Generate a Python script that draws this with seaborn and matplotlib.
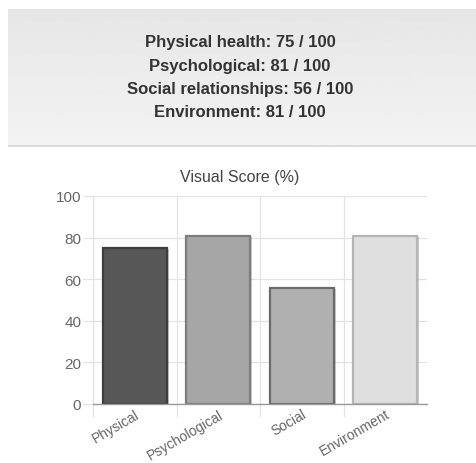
import numpy as np
import pandas as pd
import matplotlib
matplotlib.use("Agg")
import matplotlib.pyplot as plt
import matplotlib.patheffects as pe
import seaborn as sns

# chart data
categories = ["Physical", "Psychological", "Social", "Environment"]
scores = [75, 81, 56, 81]
header_labels = ["Physical health", "Psychological", "Social relationships", "Environment"]
header_scores = [75, 81, 56, 81]
bar_colors = ["#575757", "#a6a6a6", "#b0b0b0", "#dfdfdf"]
edge_colors = ["#3e3e3e", "#7d7d7d", "#6a6a6a", "#b5b5b5"]

sns.set_theme(style="white")
plt.rcParams["font.family"] = ["Liberation Sans", "DejaVu Sans"]

fig = plt.figure(figsize=(4.76, 4.64), dpi=100)

# grey header panel with gradient
W, H = 476, 464
hax = fig.add_axes([8 / W, 1 - 148 / H, 1 - 8 / W, 138 / H])
grad = np.linspace(0.902, 0.952, 100).reshape(-1, 1)
hax.imshow(grad, aspect="auto", cmap="gray", vmin=0, vmax=1, extent=[0, 1, 0, 1])
hax.axhline(0.004, color="#d6d6d6", lw=1.2)
hax.set_xlim(0, 1)
hax.set_ylim(0, 1)
hax.axis("off")

for i, (lab, val) in enumerate(zip(header_labels, header_scores)):
    fig.text(240 / W, 1 - (43 + i * 23.3) / H, f"{lab}: {val} / 100",
             ha="center", va="center", fontsize=12, fontweight="bold", color="#333333")

# bar chart
ax = fig.add_axes([93 / W, 1 - 405 / H, 334 / W, 208 / H])
df = pd.DataFrame({"category": categories, "score": scores})
sns.barplot(data=df, x="category", y="score", hue="category", palette=bar_colors,
            width=0.77, legend=False, ax=ax, saturation=1)

for patch, ec in zip(ax.patches, edge_colors):
    patch.set_edgecolor(ec)
    patch.set_linewidth(1.6)
    patch.set_path_effects([pe.SimplePatchShadow(offset=(1.5, -1), alpha=0.25), pe.Normal()])

ax.set_ylim(0, 100)
ax.set_xlim(-0.5, 3.5)
ax.set_yticks([0, 20, 40, 60, 80, 100])
ax.set_xticks(range(len(categories)))
ax.set_xticklabels(categories, rotation=30, ha="right", rotation_mode="anchor")
ax.set_xticks([-0.5, 0.5, 1.5, 2.5], minor=True)

ax.set_axisbelow(True)
ax.grid(axis="y", which="major", color="#e3e3e3", lw=0.9)
ax.grid(axis="x", which="minor", color="#e3e3e3", lw=0.9)
ax.grid(axis="x", which="major", visible=False)

ax.tick_params(axis="y", which="major", length=7.5, width=0.9, color="#e3e3e3",
               pad=1, labelsize=11, labelcolor="#666666", left=True)
ax.tick_params(axis="x", which="major", length=0, pad=2, labelsize=10, labelcolor="#666666")
ax.tick_params(axis="x", which="minor", length=9, width=0.9, color="#e3e3e3", bottom=True)

for side in ["top", "right"]:
    ax.spines[side].set_visible(False)
ax.spines["left"].set_color("#e3e3e3")
ax.spines["left"].set_linewidth(0.9)
ax.spines["bottom"].set_color("#9a9a9a")
ax.spines["bottom"].set_linewidth(1)

ax.set_xlabel("")
ax.set_ylabel("")
fig.text(240 / W, 1 - 178 / H, "Visual Score (%)", ha="center", va="center",
         fontsize=11.5, color="#444444")

fig.savefig("out.png", dpi=100)
